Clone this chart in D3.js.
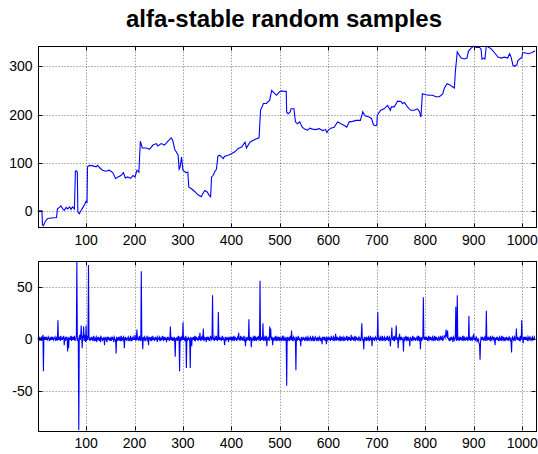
<!DOCTYPE html>
<html><head><meta charset="utf-8">
<script src="https://cdn.jsdelivr.net/npm/d3@7"></script>
<style>body{margin:0;background:#fff}</style>
</head><body>
<svg id="c" width="538" height="454"></svg>
<script>
const title = "alfa-stable random samples";
const xTicks = [100,200,300,400,500,600,700,800,900,1000];
const topYTicks = [0,100,200,300];
const botYTicks = [-50,0,50];

// cumulative walk (upper panel): sample index and value
const walkIndex = [0,9,10,12,14,17,21,28,39,41,45,48,52,55,59,62,66,69,72,76,78,81,82,83,86,90,93,97,100,102,
103,107,114,121,124,128,134,141,148,155,161,166,172,177,181,186,192,197,201,205,209,
212,216,224,231,238,245,248,255,262,269,276,279,283,286,290,292,294,297,300,306,310,
312,317,324,331,338,341,345,350,354,357,359,362,366,369,372,376,383,386,393,400,407,414,421,428,431,438,445,452,457,
460,466,472,479,483,488,493,499,503,510,513,514,517,521,523,529,532,536,541,546,551,557,562,567,574,581,588,594,597,600,
605,612,619,626,632,638,643,650,657,666,668,671,674,677,684,689,693,697,700,701,708,715,722,728,730,736,743,750,753,757,
763,770,777,784,788,791,794,801,808,815,822,829,836,839,845,850,857,860,862,866,870,874,881,886,889,894,900,905,912,915,
917,921,923,926,930,936,943,950,957,963,970,974,977,981,984,989,991,997,999,1001,1006,1012,1019,1025,1027];
const walkValue = [1,1,-28,-30,-25,-19,-15,-14,-13,5,8,11,5,2,8,5,9,4,9,5,83,83,80,-1,-5,2,7,14,21,19,
92,95,94,92,95,90,85,83,85,80,68,71,74,80,69,71,68,74,71,85,81,
145,131,131,128,137,140,135,140,137,145,152,146,128,123,116,87,91,112,85,80,81,
50,47,41,34,30,37,43,40,33,30,71,74,83,87,114,116,109,114,116,119,123,130,133,143,131,143,147,150,152,
209,223,223,230,250,245,240,247,249,248,248,205,202,205,212,212,185,181,185,174,170,168,172,170,169,171,167,169,163,168,
172,174,185,181,178,174,185,186,188,188,195,206,200,197,195,192,179,177,178,199,209,212,219,209,216,216,228,227,223,225,
216,209,209,212,206,195,243,241,240,240,237,237,243,254,264,262,257,255,288,330,323,317,315,317,331,337,342,339,339,336,
315,317,315,342,340,336,328,319,317,319,317,326,319,302,300,303,312,317,317,328,328,326,328,331,332];

// individual samples (lower panel), index 0..1027
const samples = [
0,1,-1,0,2,-1,0,1,-2,1, 0,4,-31,2,-1,1,0,2,-1,1, 0,-1,2,1,0,-2,1,0,1,-1, 2,0,1,-1,0,1,2,-1,0,1, -2,1,18,-1,2,0,1,-2,3,-1,
1,-1,2,0,3,-6,1,-2,2,0, 1,-1,-12,2,-9,1,0,2,-1,3, -2,1,0,2,-1,1,3,-2,0,1, 2,75,-2,1,-3,-88,2,4,-1,3, 13,2,-9,3,1,12,-2,4,1,-3,
13,-2,1,3,-1,71,2,1,-2,0, 1,-1,2,0,-2,1,3,-1,0,-2, 1,2,-3,0,1,-1,2,-2,0,1, -3,2,1,0,-2,1,-1,2,-6,1, 0,2,-1,-3,1,0,2,-1,1,-2,
1,0,-2,2,-1,1,0,-3,2,1, -1,0,-14,2,1,-1,0,2,-2,1, 0,-1,3,-2,1,0,-1,2,1,-9, 0,2,-1,1,-2,0,1,2,-1,0, -2,1,3,-1,0,-2,1,2,-1,1,
-1,4,0,-2,2,9,-1,1,0,-2, 3,1,-1,0,65,-2,1,-10,2,0, -1,2,1,-2,0,1,3,-1,0,-6, 2,1,0,-1,2,-2,1,0,3,-1, 1,-2,0,2,-1,1,0,-3,2,1,
0,-1,2,1,-2,0,1,-1,3,0, -2,1,0,2,-1,1,-3,0,2,-1, 1,0,-2,1,12,-1,0,2,-2,1, -1,0,2,-3,-17,1,-1,0,2,-2, 1,3,-1,-31,2,0,-2,1,3,-1,
16,-1,2,0,-2,1,3,-28,1,-2, 0,2,-1,1,-3,-28,2,0,-7,1, -1,2,0,1,-2,3,-1,0,2,-1, 1,-2,0,3,-1,6,0,-2,1,2, -1,1,10,-2,0,2,-1,1,-3,2,
0,1,-1,2,-2,0,1,3,-1,0, 2,42,-1,1,0,-2,2,1,-1,3, 0,-2,1,26,-1,0,2,-1,1,-2, 0,3,-1,1,0,-2,-6,2,1,-1, 0,2,-1,1,-3,2,0,1,-1,2,
-1,0,2,-2,1,3,-1,0,2,-1, 1,-2,0,2,1,6,-1,0,-2,3, 1,-1,2,0,-2,1,3,-1,0,-7, 2,1,-1,0,2,-1,19,-2,1,0, 2,-8,1,0,-1,2,1,-2,3,0,
1,-2,0,2,-1,1,3,-1,0,56, -2,1,0,2,-1,15,0,-2,1,2, -1,0,3,-7,1,-1,2,0,-2,12, 1,10,-1,0,2,-6,1,-1,0,2, -2,1,3,-1,0,1,-2,2,0,-1,
2,0,-1,1,-2,3,0,-1,2,1, -2,0,1,-1,-45,2,1,-1,0,2, -2,1,3,-1,8,0,-2,1,2,-1, 0,1,-2,-30,2,1,-1,0,3,-1, 1,-2,0,-7,2,1,-1,0,2,-1,
1,-1,0,2,-2,1,0,-1,2,1, -2,0,1,2,-1,0,-2,1,3,-1, 0,-2,1,2,0,-1,1,-2,2,0, -1,1,2,-1,0,-2,1,-5,2,0, 1,-1,2,-2,0,1,-5,2,1,-1,
0,2,-1,1,-2,0,3,-1,1,0, -2,2,1,-1,0,5,-2,1,0,2, -1,1,-2,0,3,-1,0,2,-2,1, 0,-1,2,1,-2,0,1,-1,3,0, -2,1,0,2,-1,1,-2,4,0,1,
-1,2,0,-2,1,3,-1,0,2,-1, 1,-2,0,2,1,-1,0,-2,3,15, 1,-1,0,-10,2,1,-1,0,2,-2, 1,0,-1,2,1,-2,0,3,-1,1, -7,0,2,-1,1,-2,0,2,1,-1,
0,2,26,-1,1,0,-2,2,1,-1, 0,3,-2,1,0,-1,2,1,-2,0, 1,-1,3,0,-2,1,2,-1,-7,0, 2,11,-1,0,1,-2,3,-1,0,2, 13,-1,1,0,-9,2,1,5,-1,0,
2,-1,1,0,-2,-12,2,1,-1,0, 3,-1,0,2,-2,1,0,-1,-7,2, 1,0,-2,1,3,-1,0,2,-1,1, -2,0,1,2,-1,0,3,-2,1,0, -10,2,1,-1,0,2,40,1,-1,2,
0,1,-1,2,0,-2,1,3,-1,0, 2,-1,1,0,-2,2,1,-1,0,3, -2,1,0,2,-1,1,-2,0,2,1, -1,0,3,-1,1,2,-2,0,1,3, 2,1,4,9,3,2,8,1,0,-1,
1,-2,0,2,-1,1,0,-3,2,1, -1,0,2,31,1,-2,42,-1,2,0, -2,1,0,2,-1,1,-2,3,0,-1, 2,1,-2,0,1,-1,2,0,-2,1, 22,-1,0,2,-2,1,0,-1,2,1,
5,-1,1,-2,0,2,1,-3,-1,0, -2,-4,-6,-20,-3,1,0,2,-1,1, 0,-2,1,2,-1,0,27,-2,1,0, 2,-1,1,0,-2,3,-1,0,1,2, -1,0,2,-1,-6,1,0,2,-1,1,
0,-2,1,2,-1,0,1,-2,3,0, -1,2,0,-2,1,1,-1,0,2,-1, 1,-2,0,2,1,-1,0,-3,-13,1, 2,0,-1,1,2,-2,0,1,10,-1, 0,2,-1,1,-2,0,3,-1,0,18,
1,0,-4,2,-1,1,0,2,-1,1, 0,-2,2,1,-1,0,2,1,-2,0, 1,2,-1,0,1,2,-1,1
];

const svg = d3.select("#c");
const FONT = "'Liberation Sans', Arial, sans-serif";

svg.append("text")
  .attr("x", 284).attr("y", 27)
  .attr("text-anchor", "middle")
  .attr("font-family", FONT).attr("font-weight", "bold").attr("font-size", 24)
  .text(title);

function panel(id, box, xDom, yDom, yTicks, xs, ys) {
  const x = d3.scaleLinear().domain(xDom).range([box.l, box.r]);
  const y = d3.scaleLinear().domain(yDom).range([box.b, box.t]);
  const g = svg.append("g");
  const cp = "clip" + id;
  svg.append("clipPath").attr("id", cp).append("rect")
    .attr("x", box.l).attr("y", box.t).attr("width", box.r - box.l).attr("height", box.b - box.t);
  const snap = v => Math.round(v) + 0.5;
  // grid
  const grid = g.append("g").attr("stroke", "#000").attr("stroke-opacity", 0.55)
    .attr("stroke-dasharray", "1,2").attr("stroke-width", 1);
  xTicks.forEach(t => grid.append("line").attr("x1", snap(x(t))).attr("x2", snap(x(t)))
    .attr("y1", box.t).attr("y2", box.b));
  yTicks.forEach(t => grid.append("line").attr("y1", snap(y(t))).attr("y2", snap(y(t)))
    .attr("x1", box.l).attr("x2", box.r));
  // data line
  const line = d3.line().x((d, i) => x(xs[i])).y((d, i) => y(ys[i]));
  g.append("path").datum(ys).attr("d", line).attr("fill", "none")
    .attr("stroke", "#0000ff").attr("stroke-width", 1.1).attr("clip-path", `url(#${cp})`);
  // frame
  g.append("rect").attr("x", snap(box.l)).attr("y", snap(box.t))
    .attr("width", Math.round(box.r - box.l)).attr("height", Math.round(box.b - box.t))
    .attr("fill", "none").attr("stroke", "#000").attr("stroke-width", 1);
  // ticks inside
  const tk = g.append("g").attr("stroke", "#000").attr("stroke-width", 1);
  const L = 4;
  xTicks.forEach(t => {
    const xx = snap(x(t));
    tk.append("line").attr("x1", xx).attr("x2", xx).attr("y1", snap(box.b)).attr("y2", snap(box.b) - L);
    tk.append("line").attr("x1", xx).attr("x2", xx).attr("y1", snap(box.t)).attr("y2", snap(box.t) + L);
  });
  yTicks.forEach(t => {
    const yy = snap(y(t));
    tk.append("line").attr("y1", yy).attr("y2", yy).attr("x1", snap(box.l)).attr("x2", snap(box.l) + L);
    tk.append("line").attr("y1", yy).attr("y2", yy).attr("x1", snap(box.r)).attr("x2", snap(box.r) - L);
  });
  // labels
  const lab = g.append("g").attr("font-family", FONT).attr("font-size", 14).attr("fill", "#000");
  xTicks.forEach(t => lab.append("text").attr("x", x(t)).attr("y", box.b + 18)
    .attr("text-anchor", "middle").text(t));
  yTicks.forEach(t => lab.append("text").attr("x", box.l - 5).attr("y", y(t) + 5)
    .attr("text-anchor", "end").text(t));
}

panel("a", {l: 37.6, r: 535.3, t: 45.7, b: 226.7}, [0, 1027], [-31.9, 342.6], topYTicks,
  walkIndex, walkValue);
panel("b", {l: 37.6, r: 535.3, t: 260.7, b: 430.3}, [0, 1027], [-87.8, 75.2], botYTicks,
  samples.map((d, i) => i), samples);
</script>
</body></html>
